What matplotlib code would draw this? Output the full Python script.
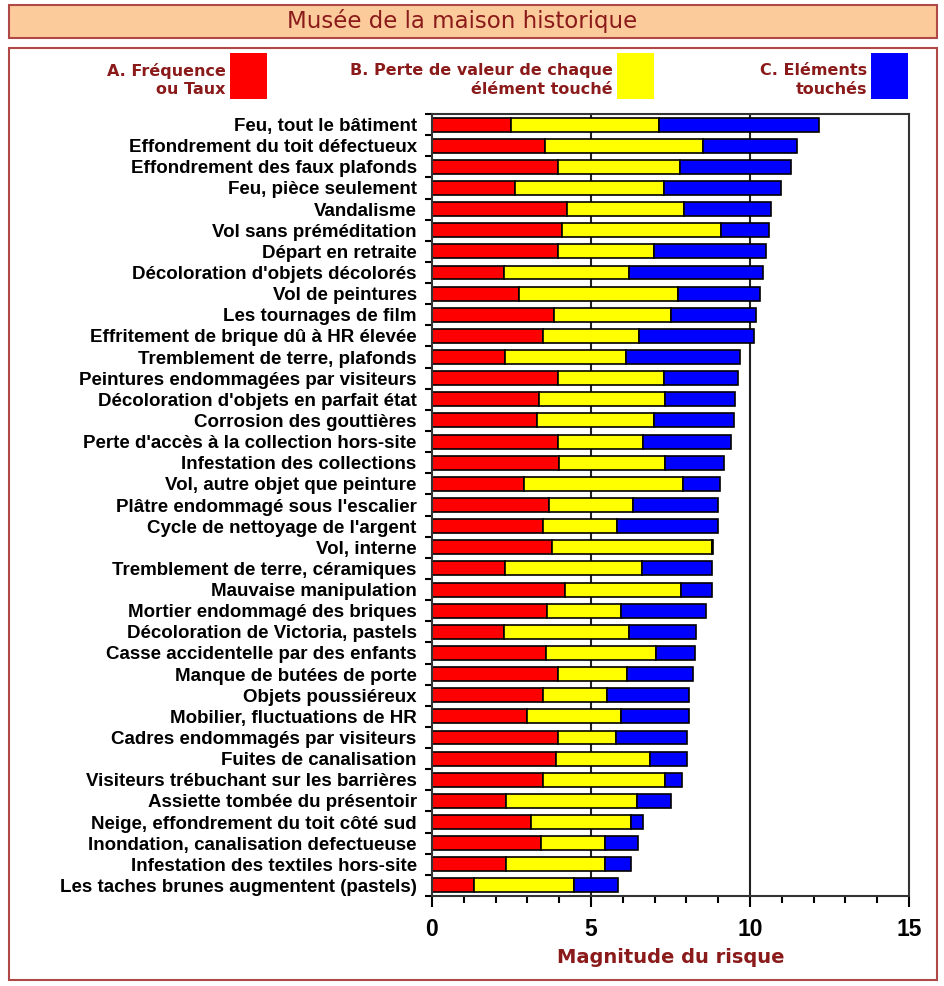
import numpy as np
import matplotlib
matplotlib.use("Agg")
from matplotlib import pyplot as plt
from matplotlib.patches import Rectangle

labels = [
    "Feu, tout le bâtiment",
    "Effondrement du toit défectueux",
    "Effondrement des faux plafonds",
    "Feu, pièce seulement",
    "Vandalisme",
    "Vol sans préméditation",
    "Départ en retraite",
    "Décoloration d'objets décolorés",
    "Vol de peintures",
    "Les tournages de film",
    "Effritement de brique dû à HR élevée",
    "Tremblement de terre, plafonds",
    "Peintures endommagées par visiteurs",
    "Décoloration d'objets en parfait état",
    "Corrosion des gouttières",
    "Perte d'accès à la collection hors-site",
    "Infestation des collections",
    "Vol, autre objet que peinture",
    "Plâtre endommagé sous l'escalier",
    "Cycle de nettoyage de l'argent",
    "Vol, interne",
    "Tremblement de terre, céramiques",
    "Mauvaise manipulation",
    "Mortier endommagé des briques",
    "Décoloration de Victoria, pastels",
    "Casse accidentelle par des enfants",
    "Manque de butées de porte",
    "Objets poussiéreux",
    "Mobilier, fluctuations de HR",
    "Cadres endommagés par visiteurs",
    "Fuites de canalisation",
    "Visiteurs trébuchant sur les barrières",
    "Assiette tombée du présentoir",
    "Neige, effondrement du toit côté sud",
    "Inondation, canalisation defectueuse",
    "Infestation des textiles hors-site",
    "Les taches brunes augmentent (pastels)",
]

# A. Fréquence ou Taux
freq = [2.48, 3.54, 3.95, 2.61, 4.26, 4.08, 3.95, 2.26, 2.75, 3.85, 3.48, 2.29,
        3.95, 3.35, 3.31, 3.95, 3.99, 2.89, 3.67, 3.48, 3.76, 2.29, 4.18,
        3.62, 2.25, 3.58, 3.95, 3.48, 2.98, 3.95, 3.89, 3.48, 2.33, 3.12,
        3.44, 2.33, 1.32]
# B. Perte de valeur de chaque élément touché
loss = [4.67, 4.98, 3.85, 4.68, 3.67, 5.00, 3.03, 3.94, 4.98, 3.67, 3.03, 3.80,
        3.34, 3.98, 3.66, 2.69, 3.34, 5.00, 2.65, 2.34, 5.04, 4.30, 3.66,
        2.33, 3.93, 3.47, 2.19, 2.01, 2.97, 1.85, 2.98, 3.85, 4.12, 3.14,
        2.00, 3.11, 3.13]
# C. Eléments touchés
items = [5.01, 2.95, 3.49, 3.68, 2.72, 1.52, 3.52, 4.21, 2.59, 2.66, 3.62, 3.58,
         2.34, 2.21, 2.53, 2.76, 1.84, 1.16, 2.67, 3.17, 0.05, 2.21, 0.96,
         2.68, 2.12, 1.21, 2.07, 2.58, 2.12, 2.23, 1.16, 0.52, 1.07, 0.38,
         1.03, 0.81, 1.39]

W, H = 945, 986
dark_red = "#8b1a1a"
border = "#b04848"

fig = plt.figure(figsize=(W / 100, H / 100), dpi=100)


def px_rect(x0, y0, x1, y1, **kw):
    # rectangle given in image pixels (y down)
    return Rectangle((x0 / W, 1 - y1 / H), (x1 - x0) / W, (y1 - y0) / H,
                     transform=fig.transFigure, **kw)


def px_text(x, y, s, **kw):
    fig.text(x / W, 1 - y / H, s, **kw)


# title box and panel
fig.patches.append(px_rect(9, 5, 937, 38, facecolor="#fccb9c", edgecolor=border, linewidth=1.5))
px_text(462, 21, "Musée de la maison historique", ha="center", va="center",
        fontsize=16.5, color=dark_red, family="DejaVu Sans")
fig.patches.append(px_rect(9, 48, 937, 980, facecolor="none", edgecolor=border, linewidth=1.5))

# legend
leg = [
    ("A. Fréquence\nou Taux", "#ff0000", 230, 267),
    ("B. Perte de valeur de chaque\nélément touché", "#ffff00", 617, 654),
    ("C. Eléments\ntouchés", "#0000ff", 871, 908),
]
for txt, col, x0, x1 in leg:
    fig.patches.append(px_rect(x0, 53, x1, 99, facecolor=col, edgecolor="none"))
    px_text(x0 - 4, 80, txt, ha="right", va="center", fontsize=11.5, fontweight="bold",
            color=dark_red, family="DejaVu Sans", linespacing=1.3)

ax = fig.add_axes([432 / W, 1 - 896 / H, (909 - 432) / W, (896 - 114) / H])
y = np.arange(len(labels))
freq = np.array(freq)
loss = np.array(loss)
items = np.array(items)

for v in (5, 10):
    ax.axvline(v, color="#222222", linewidth=1.5, zorder=0)

kw = dict(height=0.66, edgecolor="black", linewidth=1.2)
ax.barh(y, freq, color="#ff0000", **kw)
ax.barh(y, loss, left=freq, color="#ffff00", **kw)
ax.barh(y, items, left=freq + loss, color="#0000ff", **kw)

ax.set_xlim(0, 15)
ax.set_ylim(len(labels) - 0.5, -0.5)
ax.set_xticks([0, 5, 10, 15])
ax.set_xticks(np.arange(0, 16), minor=True)
ax.set_yticks(y)
ax.set_yticklabels(labels, fontsize=13.5, fontweight="bold", family="Liberation Sans")
ax.set_yticks(np.arange(-0.5, len(labels)), minor=True)
ax.tick_params(axis="y", which="major", length=0, pad=11)
ax.tick_params(axis="y", which="minor", length=5, width=1.5, direction="out")
ax.tick_params(axis="x", which="major", length=8, width=1.5, pad=8, labelsize=16.5)
ax.tick_params(axis="x", which="minor", length=5, width=1.5)
for lab in ax.get_xticklabels():
    lab.set_fontweight("bold")
    lab.set_family("Liberation Sans")
for s in ax.spines.values():
    s.set_linewidth(1.5)
    s.set_color("#333333")

ax.set_xlabel("Magnitude du risque", fontsize=14, fontweight="bold", color=dark_red,
              family="DejaVu Sans", labelpad=5)

fig.savefig("out.png", dpi=100)
